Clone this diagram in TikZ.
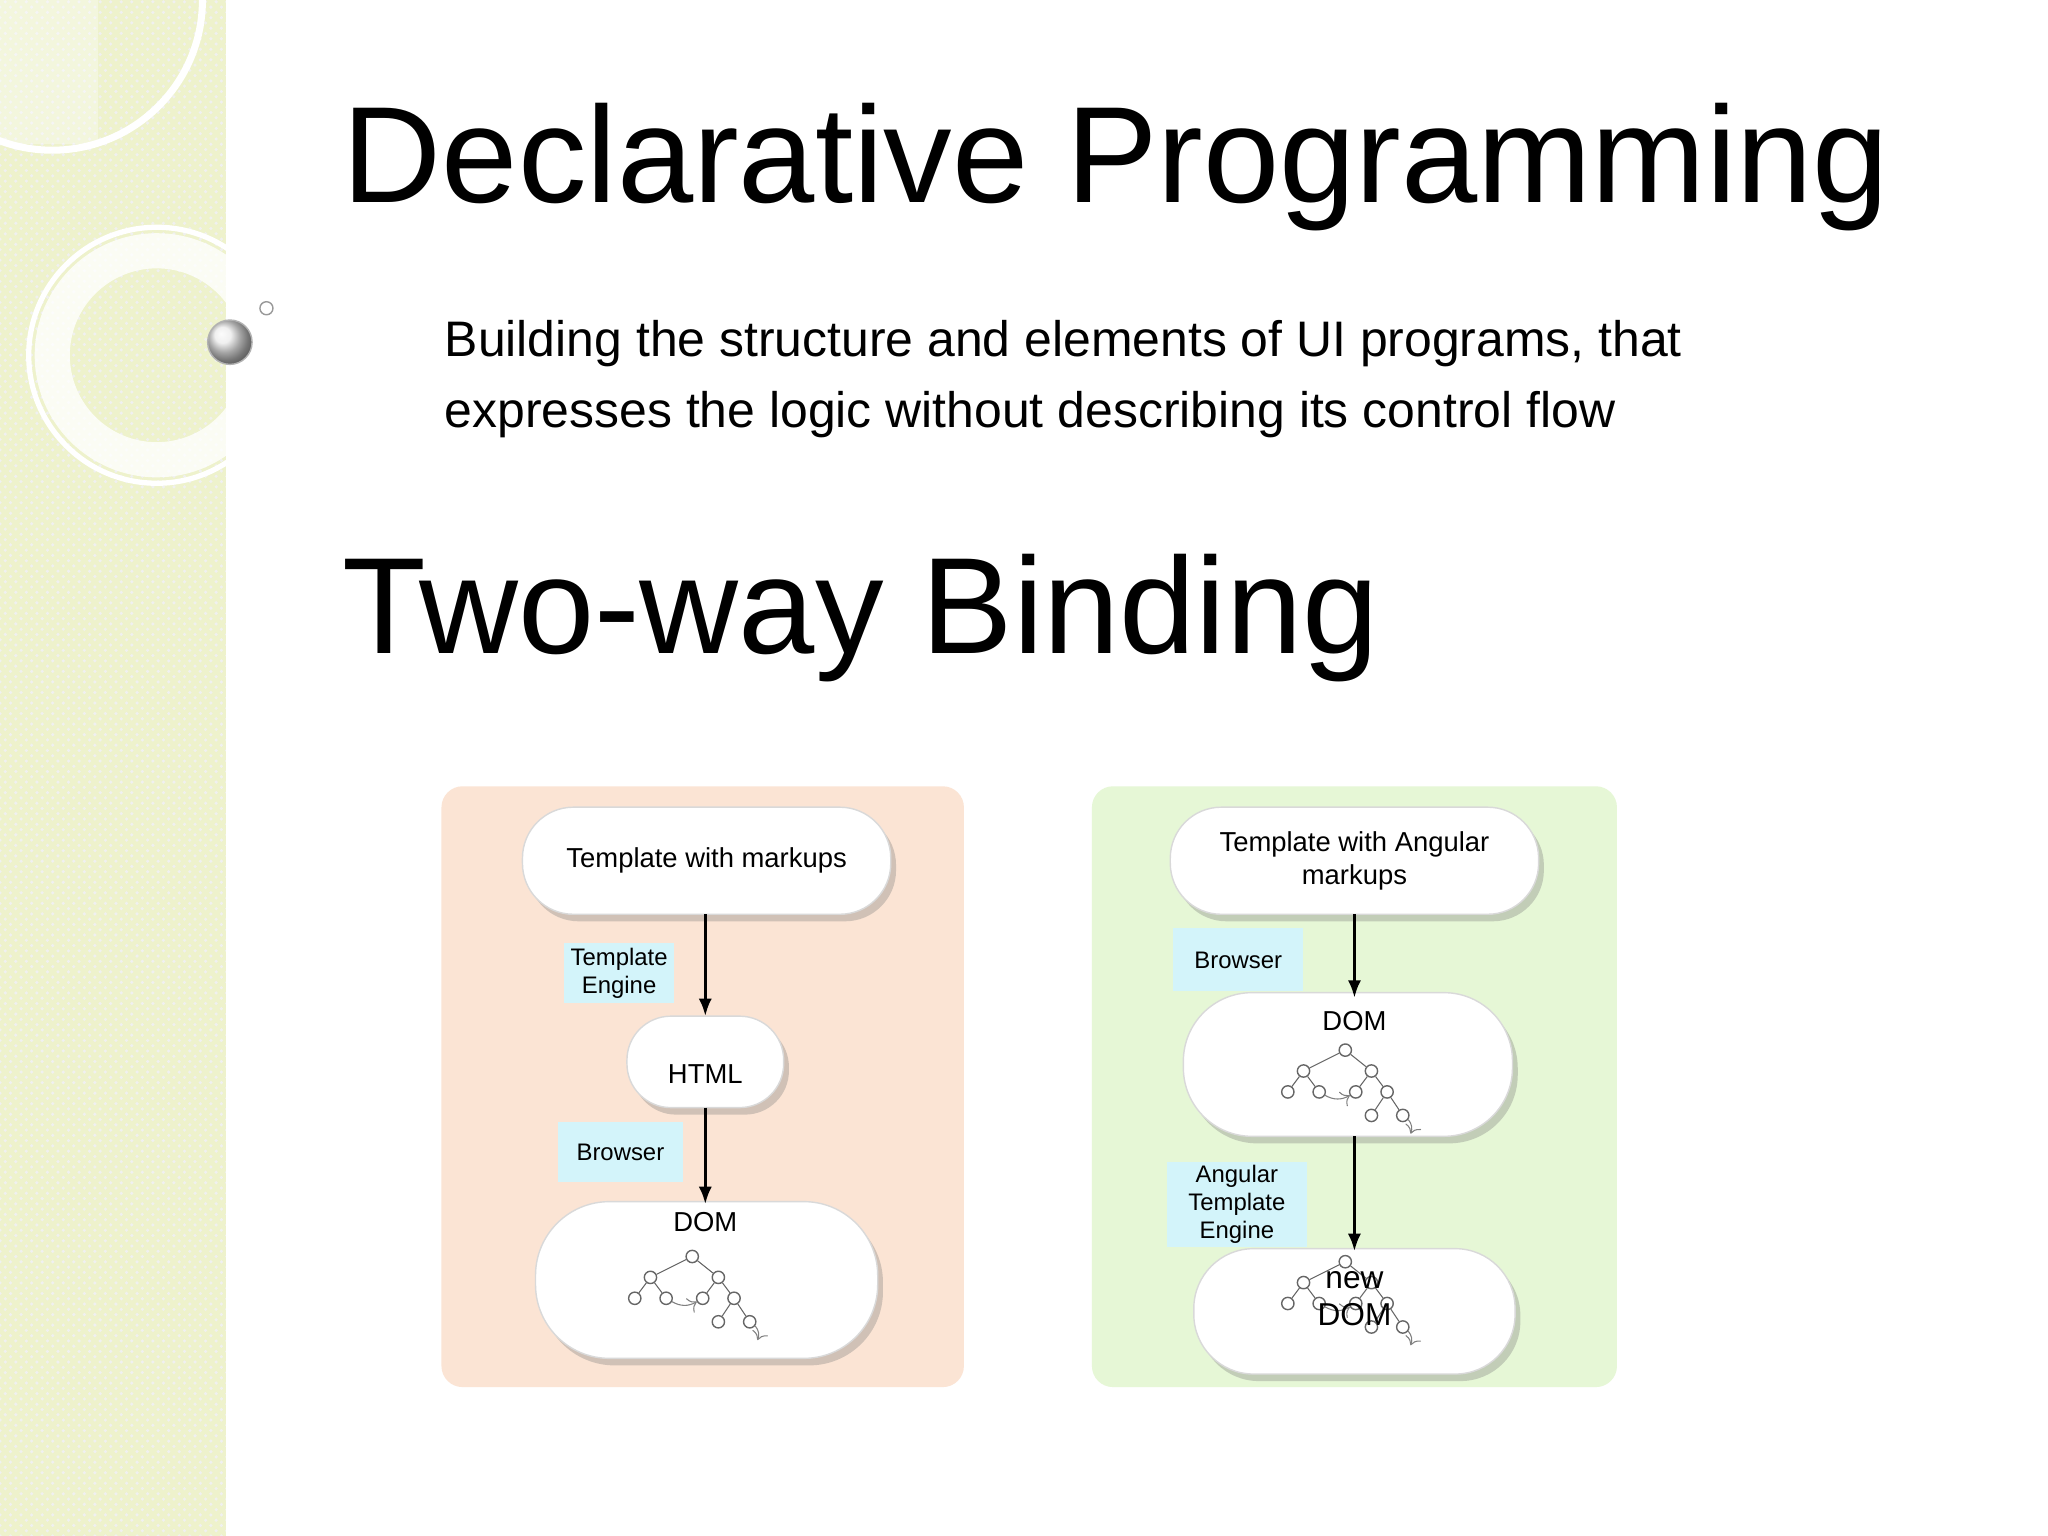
\documentclass[tikz,border=0pt]{standalone}
\usepackage{fontspec}
\setmainfont{Liberation Sans}
\usetikzlibrary{shadows,arrows.meta,patterns}
\definecolor{strip}{HTML}{EEF2CC}
\definecolor{peach}{HTML}{FBE4D4}
\definecolor{mint}{HTML}{E6F7D6}
\definecolor{cyanbox}{HTML}{D3F4FA}
\tikzset{
 pill/.style={draw=black!15,fill=white,rounded corners=#1,drop shadow={shadow xshift=1.5pt,shadow yshift=-2pt,opacity=.35}},
 panel/.style={fill=#1,rounded corners=6pt},
 lbl/.style={fill=cyanbox,inner sep=0,font=\fontsize{6.8}{8}\selectfont,align=center},
 ntext/.style={font=\fontsize{7.8}{9.5}\selectfont,align=center},
 arr/.style={-{Latex[length=5pt]},line width=0.9pt},
 tn/.style={circle,draw=black!60,fill=white,inner sep=0,minimum size=3.5pt},
 pics/tree/.style={code={
  \node[tn] (r) at (0,0) {}; \node[tn] (a) at (-32,16) {}; \node[tn] (b) at (20,16) {};
  \node[tn] (c) at (-44,32) {}; \node[tn] (d) at (-20,32) {}; \node[tn] (e) at (8,32) {};
  \node[tn] (f) at (32,32) {}; \node[tn] (g) at (20,50) {}; \node[tn] (h) at (44,50) {};
  \foreach \u/\v in {r/a,r/b,a/c,a/d,b/e,b/f,f/g,f/h} \draw[black!60,line width=0.3pt] (\u)--(\v);
  \draw[black!50,->,line width=0.3pt] (d) to[bend right] (e);
  \draw[black!50,->,line width=0.3pt] (h) to[bend left] (50,64);
 }}
}
\begin{document}
\begin{tikzpicture}[x=0.01306cm,y=-0.01306cm]
\useasboundingbox (0,0) rectangle (1568,1176);
\fill[white] (0,0) rectangle (1568,1176);
\fill[strip] (0,0) rectangle (173,1176);
\fill[pattern=crosshatch dots,pattern color=black!6] (0,0) rectangle (173,1176);
\begin{scope}
\clip (0,0) rectangle (230,1176);
\draw[white,line width=2pt] (40,0) circle (115);
\fill[white,opacity=.35] (0,0) rectangle (75,110);
\draw[white,line width=10pt,opacity=.8] (120,272) circle (80);
\draw[white,line width=1.5pt] (120,272) circle (98);
\end{scope}
\shade[ball color=black!8,draw=black!30] (176,262) circle (17);
\draw[black!40,fill=white] (204,236) circle (5);
\node[anchor=base west,inner sep=0,font=\fontsize{39}{45}\selectfont] (t1) at (262,155) {Declarative Programming};
\node[anchor=base west,inner sep=0,font=\fontsize{14.2}{20}\selectfont,align=left] (sub) at (340,327) {Building the structure and elements of UI programs, that\\expresses the logic without describing its control flow};
\node[anchor=base west,inner sep=0,font=\fontsize{39}{45}\selectfont] (t2) at (262,500) {Two-way Binding};
% left panel
\fill[panel=peach] (338,602) rectangle (738,1062);
\draw[pill=14.5pt] (400,618) rectangle (682,700);
\node[ntext] (p1) at (541,659) {Template with markups};
\draw[pill=12.5pt] (480,778) rectangle (600,848);
\node[ntext] (h) at (540,822) {HTML};
\draw[pill=21pt] (410,920) rectangle (672,1040);
\node[ntext] (d1) at (540,936) {DOM};
\pic at (530,962) {tree};
\node[lbl,text width=1.1cm,minimum height=0.6cm] (l1) at (474,745) {Template\\Engine};
\node[lbl,text width=1.25cm,minimum height=0.6cm] (l2) at (475,882) {Browser};
\coordinate (a1) at (540,700); \coordinate (a2) at (540,778);
\coordinate (a3) at (540,848); \coordinate (a4) at (540,922);
\draw[arr] (a1)--(a2); \draw[arr] (a3)--(a4);
% right panel
\fill[panel=mint] (836,602) rectangle (1238,1062);
\draw[pill=14.5pt] (896,618) rectangle (1178,700);
\node[ntext] (p2) at (1037,659) {Template with Angular\\markups};
\draw[pill=19.5pt] (906,760) rectangle (1158,870);
\node[ntext] (d2) at (1037,782) {DOM};
\pic at (1030,804) {tree};
\draw[pill=17pt] (914,956) rectangle (1160,1052);
\pic at (1030,966) {tree};
\node[ntext,font=\fontsize{9}{10.5}\selectfont] (d3) at (1037,994) {new\\DOM};
\node[lbl,text width=1.3cm,minimum height=0.63cm] (l3) at (948,735) {Browser};
\node[lbl,text width=1.4cm,minimum height=0.85cm] (l4) at (947,922) {Angular\\Template\\Engine};
\coordinate (b1) at (1037,700); \coordinate (b2) at (1037,764);
\coordinate (b3) at (1037,870); \coordinate (b4) at (1037,958);
\draw[arr] (b1)--(b2); \draw[arr] (b3)--(b4);
\end{tikzpicture}
\end{document}
